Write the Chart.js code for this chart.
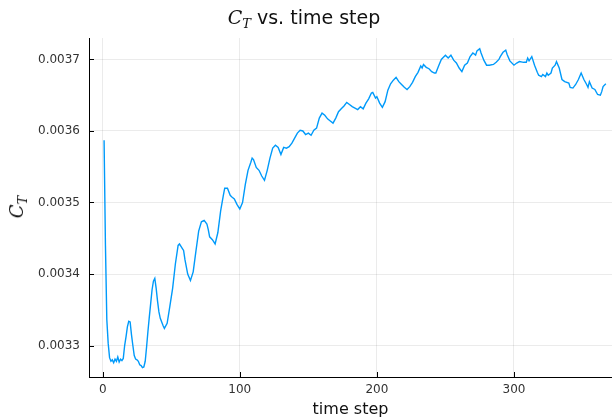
<!DOCTYPE html>
<html>
<head>
<meta charset="utf-8">
<script src="https://cdn.jsdelivr.net/npm/chart.js@4.4.1/dist/chart.umd.min.js"></script>
<style>
  html, body { margin: 0; padding: 0; background: #fff; }
  #wrap { position: relative; width: 612px; height: 419px; }
  #c { position: absolute; left: 0; top: 0; }
  .title { position: absolute; left: 0; width: 608px; top: 5px; text-align: center;
           font-family: "DejaVu Sans", sans-serif; font-size: 19px; color: #111; line-height: 24px; }
  .m { font-family: "DejaVu Serif", serif; font-style: italic; }
  .m sub { font-size: 13px; vertical-align: -4px; }
  .ylab { position: absolute; left: 20px; top: 207px; transform: translate(-50%, -50%) rotate(-90deg);
          font-size: 18px; color: #111; white-space: nowrap; line-height: 20px; }
</style>
</head>
<body>
<div id="wrap">
  <canvas id="c" width="612" height="419"></canvas>
  <div class="title"><span class="m">C<sub>T</sub></span> vs. time step</div>
  <div class="ylab"><span class="m">C<sub>T</sub></span></div>
</div>
<script>
const steps = [1,2,3,4,5,6,7,8,9,10,11,12,13,14,15,16,17,18,19,20,21,22,23,24,25,26,27,28,29,30,31,32,33,34,35,36,37,38,39,40,41,42,44,45,47,49,51,53,55,56,58,59,60,62,64,66,68,70,72,74,76,77,78,80,82,84,86,88,89,91,93,94,96,98,100,102,104,106,108,109,110,112,114,116,118,120,122,124,126,128,130,132,134,136,138,140,142,144,146,148,150,152,154,156,158,160,162,164,166,168,170,172,174,176,178,180,182,184,186,188,190,192,194,196,197,199,200,202,204,206,208,210,212,214,216,218,220,222,224,226,228,230,232,233,234,236,238,240,242,243,245,247,248,250,252,254,256,258,260,262,264,266,268,270,272,273,275,276,278,280,282,285,287,289,290,292,294,295,297,300,302,304,307,309,310,311,313,315,317,318,320,321,323,324,325,327,328,330,331,333,335,337,340,341,343,345,347,349,351,353,354,355,357,359,361,363,364,365,367];
const ct = [0.003587,0.003440,0.003336,0.003303,0.003283,0.003278,0.003280,0.003276,0.003281,0.003278,0.003284,0.003277,0.003281,0.003279,0.003282,0.003300,0.003312,0.003326,0.003334,0.003333,0.003315,0.003300,0.003286,0.003281,0.003280,0.003278,0.003273,0.003272,0.003269,0.003270,0.003278,0.003298,0.003320,0.003340,0.003359,0.003378,0.003390,0.003394,0.003380,0.003362,0.003347,0.003338,0.003328,0.003324,0.003331,0.003355,0.003380,0.003414,0.003440,0.003442,0.003436,0.003433,0.003420,0.003400,0.003391,0.003403,0.003432,0.003460,0.003473,0.003475,0.003470,0.003462,0.003452,0.003448,0.003442,0.003458,0.003488,0.003510,0.003520,0.003520,0.003510,0.003508,0.003505,0.003497,0.003491,0.003500,0.003525,0.003545,0.003556,0.003562,0.003560,0.003549,0.003545,0.003537,0.003531,0.003545,0.003562,0.003576,0.003580,0.003577,0.003567,0.003577,0.003576,0.003578,0.003583,0.003590,0.003597,0.003601,0.003600,0.003595,0.003597,0.003594,0.003601,0.003604,0.003618,0.003625,0.003622,0.003617,0.003614,0.003611,0.003618,0.003627,0.003631,0.003635,0.003640,0.003637,0.003634,0.003632,0.003630,0.003634,0.003631,0.003639,0.003645,0.003653,0.003654,0.003646,0.003648,0.003639,0.003633,0.003641,0.003657,0.003666,0.003671,0.003675,0.003669,0.003665,0.003661,0.003658,0.003662,0.003668,0.003676,0.003682,0.003691,0.003688,0.003693,0.003689,0.003687,0.003683,0.003681,0.003681,0.003691,0.003700,0.003702,0.003706,0.003702,0.003706,0.003699,0.003695,0.003688,0.003683,0.003692,0.003695,0.003704,0.003709,0.003706,0.003712,0.003715,0.003709,0.003699,0.003692,0.003692,0.003693,0.003696,0.003700,0.003704,0.003710,0.003713,0.003707,0.003698,0.003692,0.003695,0.003697,0.003696,0.003696,0.003702,0.003698,0.003704,0.003692,0.003682,0.003678,0.003676,0.003679,0.003676,0.003681,0.003678,0.003681,0.003688,0.003692,0.003697,0.003688,0.003672,0.003669,0.003667,0.003661,0.003660,0.003665,0.003672,0.003681,0.003672,0.003665,0.003661,0.003669,0.003660,0.003658,0.003651,0.003650,0.003655,0.003662,0.003666];
const xTicks = [0, 100, 200, 300];
const yTicks = [0.0033, 0.0034, 0.0035, 0.0036, 0.0037];

const points = steps.map((s, i) => ({ x: s, y: ct[i] }));

const innerTicks = {
  id: 'innerTicks',
  afterDraw(chart) {
    const { ctx, chartArea: a, scales: { x, y } } = chart;
    ctx.save();
    ctx.strokeStyle = '#000';
    ctx.lineWidth = 1;
    ctx.beginPath();
    xTicks.forEach(v => { const px = Math.round(x.getPixelForValue(v)) + 0.5; ctx.moveTo(px, a.bottom); ctx.lineTo(px, a.bottom - 5); });
    yTicks.forEach(v => { const py = Math.round(y.getPixelForValue(v)) + 0.5; ctx.moveTo(a.left, py); ctx.lineTo(a.left + 5, py); });
    ctx.stroke();
    ctx.restore();
  }
};

new Chart(document.getElementById('c'), {
  type: 'line',
  data: { datasets: [{ data: points, borderColor: '#009AFA', borderWidth: 1.4, pointRadius: 0, tension: 0, fill: false }] },
  options: {
    responsive: false, animation: false, devicePixelRatio: 1,
    layout: { padding: { top: 38, right: 0, left: 0, bottom: 0 } },
    plugins: { legend: { display: false }, tooltip: { enabled: false }, title: { display: false } },
    scales: {
      x: {
        type: 'linear', min: -10, max: 371.5,
        afterBuildTicks: s => { s.ticks = xTicks.map(v => ({ value: v })); },
        afterFit: s => { s.height = 42; },
        grid: { color: 'rgba(0,0,0,0.08)', drawTicks: false },
        border: { display: true, color: '#000', width: 1 },
        ticks: { padding: 6, color: '#333', font: { family: 'DejaVu Sans', size: 12 }, maxRotation: 0, callback: v => String(v) },
        title: { display: true, text: 'time step', color: '#111', font: { family: 'DejaVu Sans', size: 16 }, padding: { top: 0, bottom: 0 } }
      },
      y: {
        type: 'linear', min: 0.003256, max: 0.00373,
        afterBuildTicks: s => { s.ticks = yTicks.map(v => ({ value: v })); },
        afterFit: s => { s.width = 89; },
        grid: { color: 'rgba(0,0,0,0.08)', drawTicks: false },
        border: { display: true, color: '#000', width: 1 },
        ticks: { padding: 9, color: '#333', font: { family: 'DejaVu Sans', size: 12 }, callback: v => Number(v).toFixed(4) }
      }
    }
  },
  plugins: [innerTicks]
});
</script>
</body>
</html>
